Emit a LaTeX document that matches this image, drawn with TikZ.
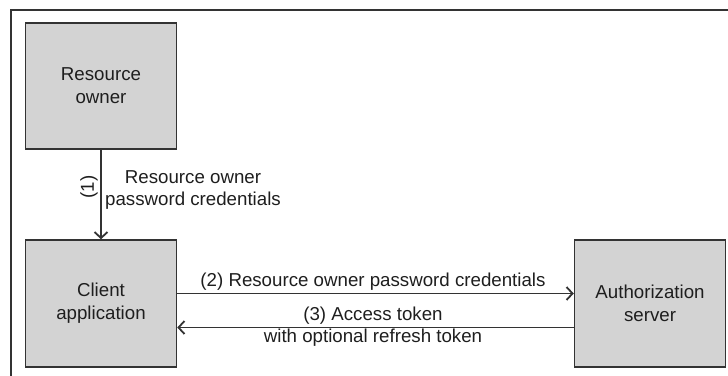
\documentclass[tikz,border=0pt]{standalone}
\usepackage{fontspec}
\setmainfont{Liberation Sans}
\usetikzlibrary{arrows.meta}
\definecolor{boxfill}{RGB}{211,211,211}
\definecolor{linec}{RGB}{51,51,51}
\definecolor{textc}{RGB}{30,30,30}
\begin{document}
\begin{tikzpicture}[x=1pt,y=-1pt,
  every node/.style={font=\fontsize{18.7pt}{23pt}\selectfont, text=textc},
  actor/.style={draw=linec, line width=1.5pt, fill=boxfill, minimum width=151pt, minimum height=126pt, align=center, inner sep=0pt},
  conn/.style={draw=linec, line width=1.5pt, -{Straight Barb[length=6pt,width=13pt,line width=1.8pt]}},
  lbl/.style={align=center, inner sep=0pt}]
\useasboundingbox (0,0) rectangle (728,375);
\draw[linec, line width=1.5pt] (730,10) -- (11,10) -- (11,377);
\node[actor] (ro) at (101,86) {Resource\\owner};
\node[actor, minimum height=127pt] (ca) at (101,303.5) {Client\\application};
\node[actor, minimum height=127pt] (as) at (650,303.5) {Authorization\\server};
\draw[conn] (ro.south) -- (ca.north);
\node[lbl, rotate=90] (l1) at (89,187) {(1)};
\node[lbl, font=\fontsize{18.7pt}{21.5pt}\selectfont] (l1b) at (193,190) {Resource owner\\password credentials};
\coordinate (a2s) at (ca.east |- 0,293.5);
\coordinate (a2e) at (as.west |- 0,293.5);
\draw[conn] (a2s) -- (a2e);
\node[lbl] (l2) at (373,282) {(2) Resource owner password credentials};
\coordinate (a3s) at (as.west |- 0,327.5);
\coordinate (a3e) at (ca.east |- 0,327.5);
\draw[conn] (a3s) -- (a3e);
\node[lbl, font=\fontsize{18.7pt}{22pt}\selectfont] (l3) at (373,327) {(3) Access token\\with optional refresh token};
\end{tikzpicture}
\end{document}
